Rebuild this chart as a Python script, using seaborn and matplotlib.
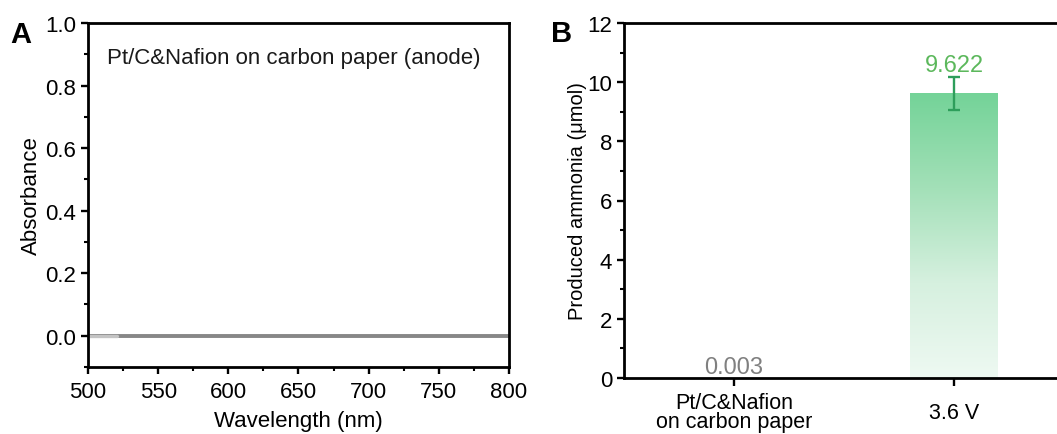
import numpy as np
import pandas as pd
import matplotlib
matplotlib.use("Agg")
import matplotlib.pyplot as plt
from matplotlib.ticker import MultipleLocator
from matplotlib.colors import LinearSegmentedColormap
import seaborn as sns

# ---- data ----
wavelength = [500, 520, 550, 600, 650, 700, 750, 800]
absorbance = [0.0, 0.0, 0.0, 0.0, 0.0, 0.0, 0.0, 0.0]
wavelength_start = [500, 521]
absorbance_start = [-0.002, -0.002]

categories = ["Pt/C&Nafion\non carbon paper", "3.6 V"]
ammonia = [0.003, 9.622]
ammonia_err = [0.0, 0.55]
value_labels = ["0.003", "9.622"]

sns.set_theme(style="ticks")
plt.rcParams['font.family'] = ['Liberation Sans', 'DejaVu Sans']
plt.rcParams['text.color'] = 'black'
plt.rcParams['axes.labelcolor'] = 'black'
plt.rcParams['axes.linewidth'] = 2.0
plt.rcParams['xtick.major.width'] = 1.7
plt.rcParams['ytick.major.width'] = 1.7
plt.rcParams['xtick.minor.width'] = 1.5
plt.rcParams['ytick.minor.width'] = 1.5
plt.rcParams['xtick.major.size'] = 5
plt.rcParams['ytick.major.size'] = 5
plt.rcParams['xtick.minor.size'] = 3
plt.rcParams['ytick.minor.size'] = 3

fig = plt.figure(figsize=(10.57, 4.35), dpi=100)

# ---- Panel A ----
axA = fig.add_axes([88/1057, (435-368)/435, 421/1057, 344/435])
dfA = pd.DataFrame({"Wavelength": wavelength, "Absorbance": absorbance})
sns.lineplot(data=dfA, x="Wavelength", y="Absorbance", ax=axA, color="#878787", linewidth=2.8)
dfA2 = pd.DataFrame({"Wavelength": wavelength_start, "Absorbance": absorbance_start})
sns.lineplot(data=dfA2, x="Wavelength", y="Absorbance", ax=axA, color="#c4c4c4", linewidth=2.4)
axA.set_xlim(500, 800)
axA.set_ylim(-0.1, 1.0)
axA.xaxis.set_major_locator(MultipleLocator(50))
axA.xaxis.set_minor_locator(MultipleLocator(25))
axA.yaxis.set_major_locator(MultipleLocator(0.2))
axA.yaxis.set_minor_locator(MultipleLocator(0.1))
axA.yaxis.set_major_formatter(matplotlib.ticker.FormatStrFormatter('%.1f'))
axA.tick_params(axis='both', which='both', direction='out', labelsize=16, colors='black', top=False, right=False)
axA.tick_params(axis='x', pad=5)
axA.set_xlabel("Wavelength (nm)", fontsize=16, labelpad=5.5)
axA.set_ylabel("Absorbance", fontsize=16, labelpad=2)
axA.text(0.045, 0.9, "Pt/C&Nafion on carbon paper (anode)", transform=axA.transAxes,
         fontsize=16, ha='left', va='center', color='#1a1a1a')
for s in axA.spines.values():
    s.set_color('black')
fig.text(10/1057, 1 - 35/435, "A", fontsize=21, fontweight='bold', ha='left', va='center')

# ---- Panel B ----
axB = fig.add_axes([624/1057, (435-379)/435, 440/1057, 355/435])
dfB = pd.DataFrame({"cat": categories, "val": ammonia})
sns.barplot(data=dfB, x="cat", y="val", ax=axB, width=0.4, color="#74d398", errorbar=None)
axB.set_xlim(-0.5, 1.5)
axB.set_ylim(0, 12)

cmap = LinearSegmentedColormap.from_list("g", ["#eef9f2", "#d6f0df", "#a3e0b8", "#74d398"])
grad = np.linspace(0, 1, 256).reshape(-1, 1)
for p in axB.patches:
    x0, y0 = p.get_x(), p.get_y()
    w, h = p.get_width(), p.get_height()
    if h <= 0.01:
        continue
    p.set_facecolor('none')
    p.set_edgecolor('none')
    im = axB.imshow(grad, cmap=cmap, aspect='auto', origin='lower',
                    extent=[x0, x0 + w, y0, y0 + h], zorder=p.get_zorder())
    im.set_clip_path(p)
axB.set_xlim(-0.5, 1.5)
axB.set_ylim(0, 12)

axB.errorbar([1], [ammonia[1]], yerr=[ammonia_err[1]], fmt='none', ecolor='#2e9e5b',
             elinewidth=1.7, capsize=4.5, capthick=1.7, zorder=5)
axB.text(0, ammonia[0] + 0.0, value_labels[0], ha='center', va='bottom', fontsize=17, color='#808080')
axB.text(1, ammonia[1] + ammonia_err[1] + 0.05, value_labels[1], ha='center', va='bottom', fontsize=17, color='#5cb85c')

axB.yaxis.set_major_locator(MultipleLocator(2))
axB.yaxis.set_minor_locator(MultipleLocator(1))
axB.tick_params(axis='both', which='both', direction='out', labelsize=16, colors='black', top=False, right=False)
axB.tick_params(axis='x', labelsize=15.5, length=6, pad=18.5)
axB.set_xlabel("")
axB.set_ylabel("Produced ammonia (μmol)", fontsize=14.5, labelpad=0)
for lbl in axB.get_xticklabels():
    lbl.set_linespacing(0.9)
    lbl.set_verticalalignment('center')
for s in axB.spines.values():
    s.set_color('black')
fig.text(551/1057, 1 - 34/435, "B", fontsize=21, fontweight='bold', ha='left', va='center')

fig.savefig("out.png", dpi=100)
